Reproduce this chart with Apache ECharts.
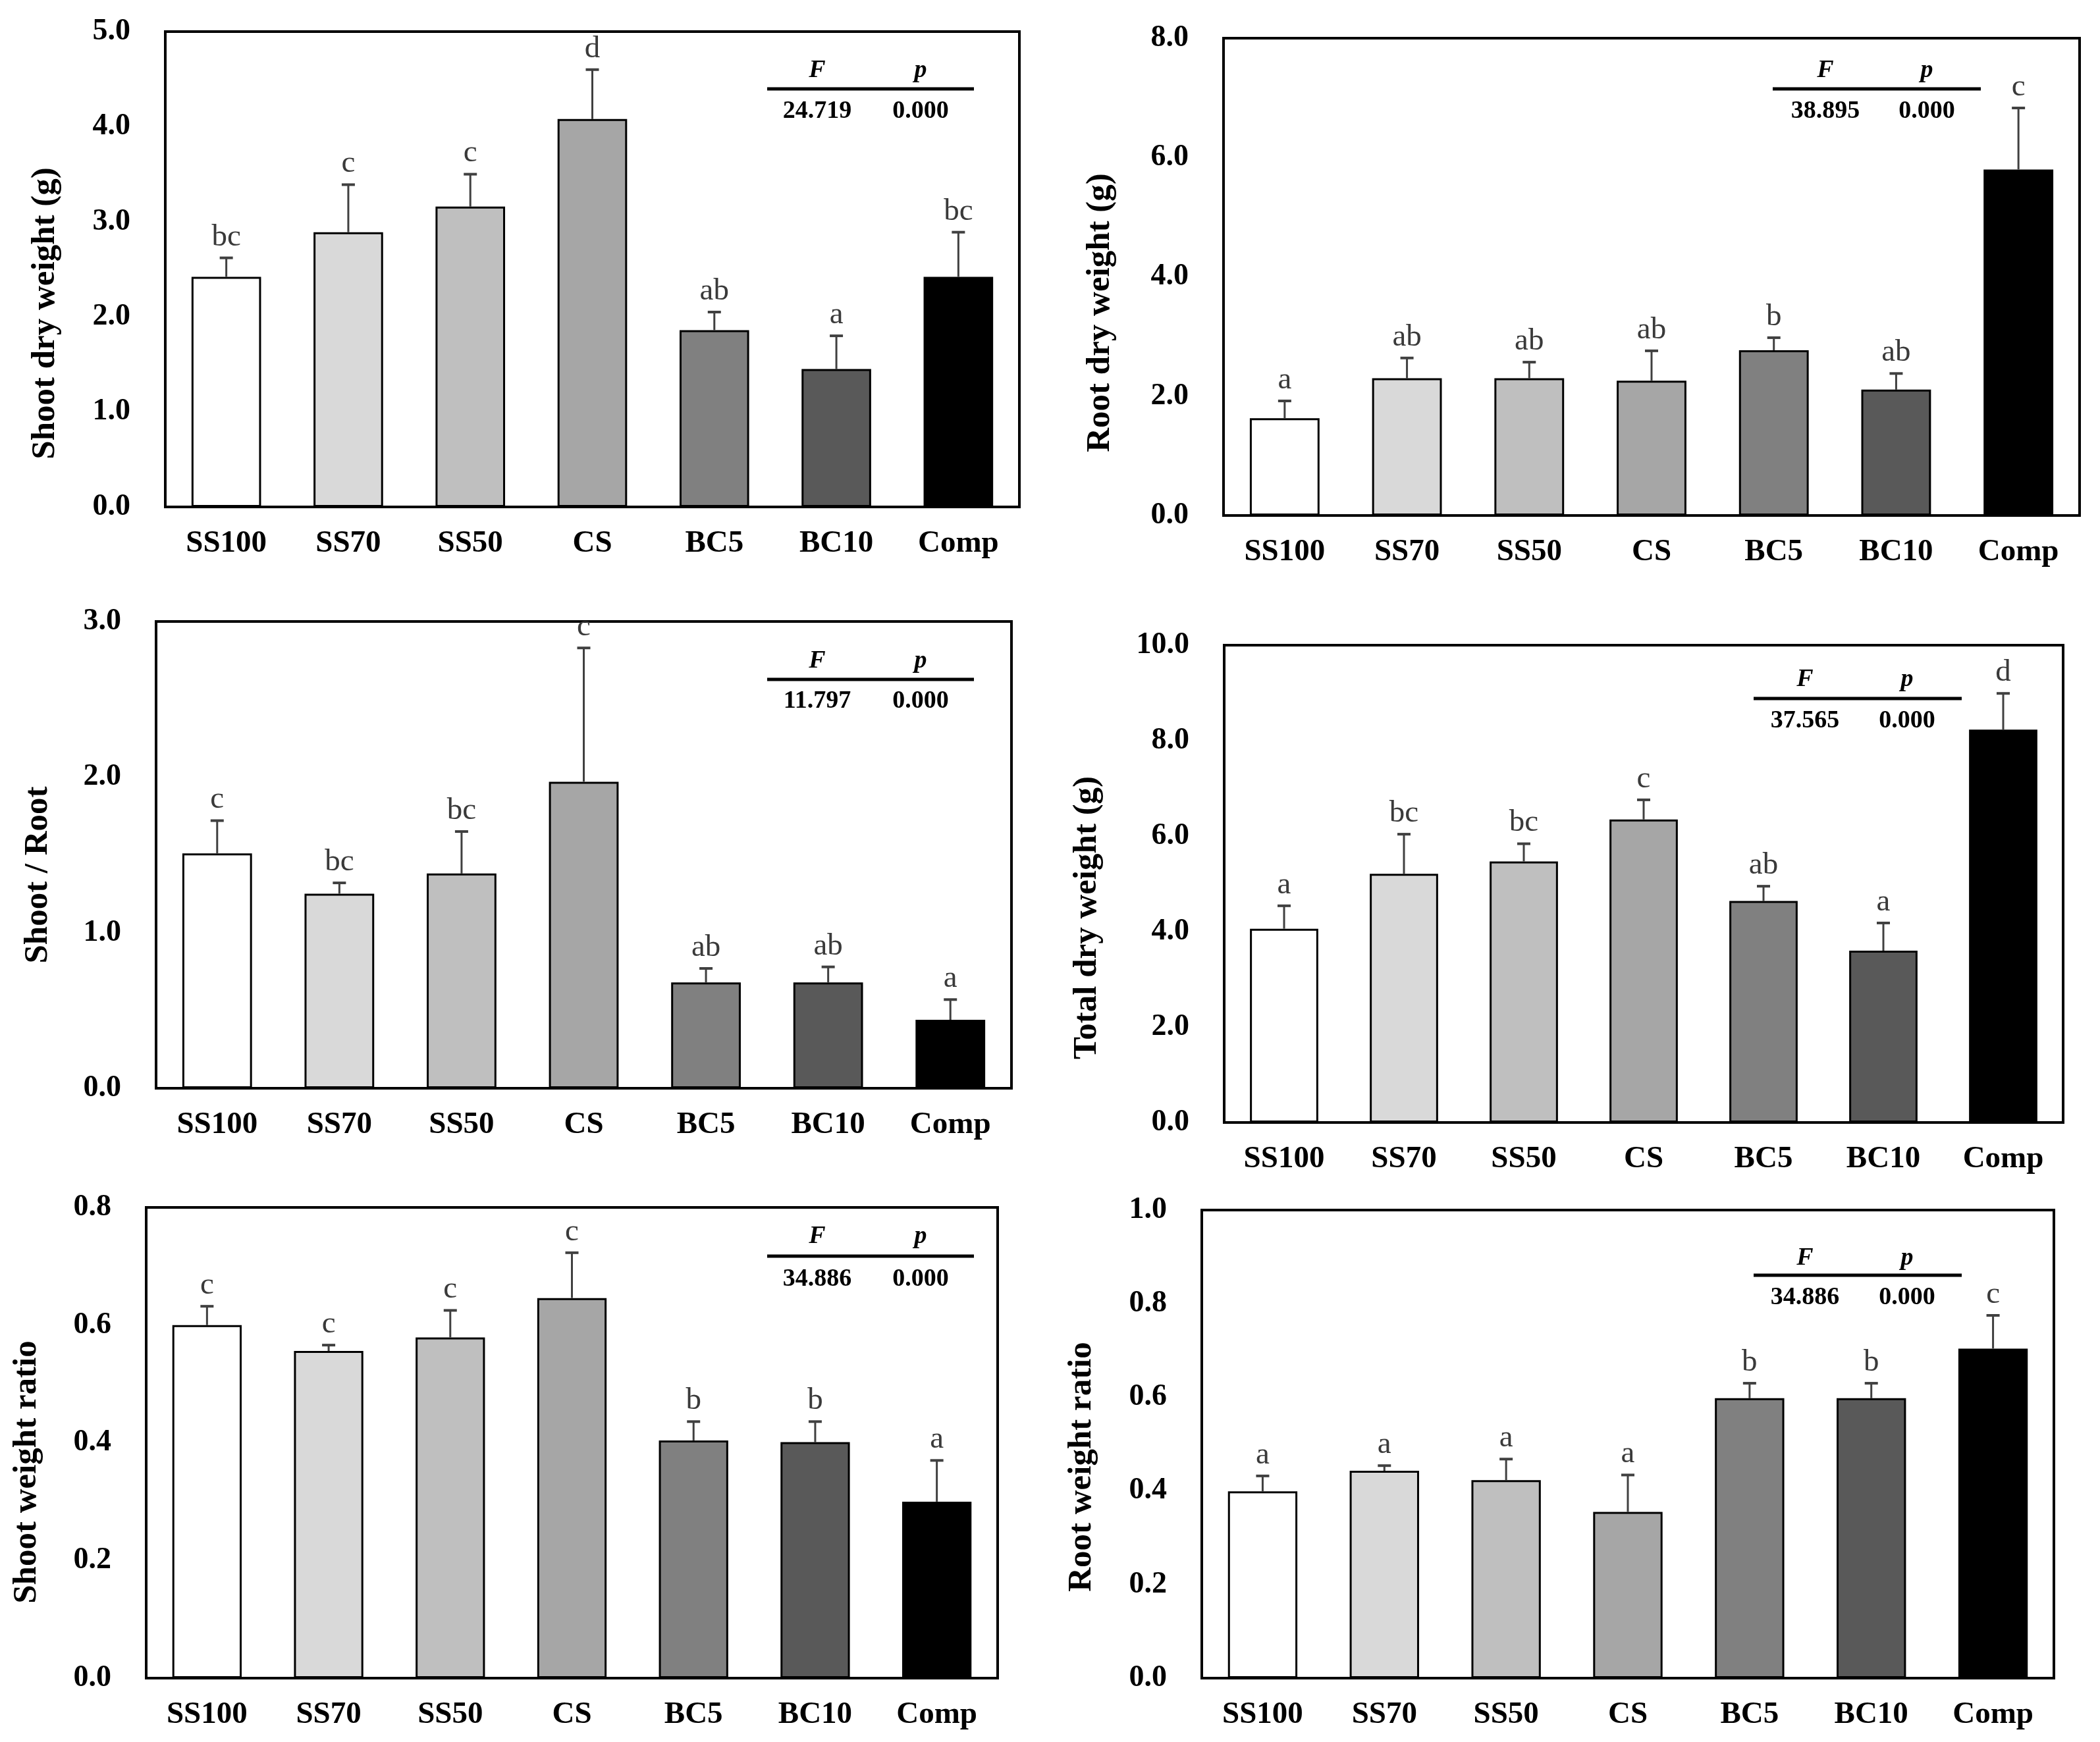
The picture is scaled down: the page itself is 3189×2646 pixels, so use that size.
<!DOCTYPE html>
<html>
<head>
<meta charset="utf-8">
<script src="https://cdn.jsdelivr.net/npm/echarts@6/dist/echarts.min.js"></script>
<style>html,body{margin:0;padding:0;background:#fff;}#c{width:3189px;height:2646px;}</style>
</head>
<body>
<div id="c"></div>
<script>
// ---------- DATA ----------
const categories = ['SS100', 'SS70', 'SS50', 'CS', 'BC5', 'BC10', 'Comp'];
const barColors = ['#ffffff', '#d9d9d9', '#bfbfbf', '#a6a6a6', '#808080', '#595959', '#000000'];

const shootDryWeight = [2.42, 2.89, 3.16, 4.08, 1.86, 1.45, 2.42];
const shootDryWeightErr = [0.20, 0.50, 0.34, 0.52, 0.19, 0.35, 0.47];
const shootDryWeightLetters = ['bc', 'c', 'c', 'd', 'ab', 'a', 'bc'];

const rootDryWeight = [1.63, 2.30, 2.30, 2.26, 2.77, 2.11, 5.80];
const rootDryWeightErr = [0.29, 0.34, 0.27, 0.50, 0.21, 0.27, 1.03];
const rootDryWeightLetters = ['a', 'ab', 'ab', 'ab', 'b', 'ab', 'c'];

const shootRoot = [1.51, 1.25, 1.38, 1.97, 0.68, 0.68, 0.44];
const shootRootErr = [0.21, 0.07, 0.27, 0.86, 0.09, 0.10, 0.13];
const shootRootLetters = ['c', 'bc', 'bc', 'c', 'ab', 'ab', 'a'];

const totalDryWeight = [4.06, 5.21, 5.47, 6.35, 4.64, 3.60, 8.23];
const totalDryWeightErr = [0.48, 0.83, 0.37, 0.41, 0.31, 0.58, 0.76];
const totalDryWeightLetters = ['a', 'bc', 'bc', 'c', 'ab', 'a', 'd'];

const shootWeightRatio = [0.600, 0.556, 0.579, 0.646, 0.404, 0.401, 0.300];
const shootWeightRatioErr = [0.032, 0.010, 0.046, 0.077, 0.032, 0.035, 0.070];
const shootWeightRatioLetters = ['c', 'c', 'c', 'c', 'b', 'b', 'a'];

const rootWeightRatio = [0.399, 0.443, 0.423, 0.355, 0.598, 0.598, 0.704];
const rootWeightRatioErr = [0.033, 0.011, 0.045, 0.079, 0.032, 0.032, 0.071];
const rootWeightRatioLetters = ['a', 'a', 'a', 'a', 'b', 'b', 'c'];

const yTitles = ['Shoot dry weight (g)', 'Root dry weight (g)', 'Shoot / Root', 'Total dry weight (g)', 'Shoot weight ratio', 'Root weight ratio'];
const yMaxes = [5, 8, 3, 10, 0.8, 1.0];
const yIntervals = [1, 2, 1, 2, 0.2, 0.2];
const fValues = ['24.719', '38.895', '11.797', '37.565', '34.886', '34.886'];
const pValues = ['0.000', '0.000', '0.000', '0.000', '0.000', '0.000'];

// ---------- LAYOUT (pixels) ----------
const panels = [
  { data: shootDryWeight, err: shootDryWeightErr, letters: shootDryWeightLetters, box: [251, 48, 1548, 770], title: [69, 476], inset: { fx: 1241, px: 1398, ly: 135, l1: 1165, l2: 1479, hy: 107, ny: 169 } },
  { data: rootDryWeight, err: rootDryWeightErr, letters: rootDryWeightLetters, box: [1858, 58, 3158, 783], title: [1671, 475], inset: { fx: 2772, px: 2926, ly: 135, l1: 2692, l2: 3008, hy: 107, ny: 169 } },
  { data: shootRoot, err: shootRootErr, letters: shootRootLetters, box: [237, 944, 1536, 1653], title: [58, 1329], inset: { fx: 1241, px: 1398, ly: 1032, l1: 1165, l2: 1479, hy: 1004, ny: 1065 } },
  { data: totalDryWeight, err: totalDryWeightErr, letters: totalDryWeightLetters, box: [1859, 980, 3133, 1705], title: [1651, 1394], inset: { fx: 2741, px: 2896, ly: 1061, l1: 2663, l2: 2979, hy: 1032, ny: 1095 } },
  { data: shootWeightRatio, err: shootWeightRatioErr, letters: shootWeightRatioLetters, box: [222, 1834, 1515, 2549], title: [41, 2236], inset: { fx: 1241, px: 1398, ly: 1908, l1: 1165, l2: 1479, hy: 1878, ny: 1943 } },
  { data: rootWeightRatio, err: rootWeightRatioErr, letters: rootWeightRatioLetters, box: [1825, 1838, 3119, 2549], title: [1643, 2228], inset: { fx: 2741, px: 2896, ly: 1937, l1: 2663, l2: 2979, hy: 1911, ny: 1971 } }
];

const SERIF = '"Liberation Serif", "Times New Roman", serif';
const grids = [], xAxes = [], yAxes = [], series = [], graphics = [];

panels.forEach((pn, k) => {
  const [l, t, r, b] = pn.box;
  grids.push({ left: l, top: t, width: r - l, height: b - t, show: true, borderColor: '#000', borderWidth: 4, backgroundColor: '#fff', containLabel: false });
  xAxes.push({
    type: 'category', gridIndex: k, data: categories,
    axisLine: { show: true, lineStyle: { color: '#000', width: 4 } },
    axisTick: { show: false },
    axisLabel: { interval: 0, margin: 32, color: '#000', fontFamily: SERIF, fontWeight: 'bold', fontSize: 47 }
  });
  yAxes.push({
    type: 'value', gridIndex: k, min: 0, max: yMaxes[k], interval: yIntervals[k],
    axisLine: { show: false }, axisTick: { show: false }, splitLine: { show: false },
    axisLabel: { margin: 53, color: '#000', fontFamily: SERIF, fontWeight: 'bold', fontSize: 46, formatter: v => v.toFixed(1) }
  });
  series.push({
    type: 'bar', xAxisIndex: k, yAxisIndex: k, barWidth: '57%', z: 2,
    data: pn.data.map((v, i) => ({ value: v, itemStyle: { color: barColors[i], borderColor: '#000', borderWidth: 3 } })),
    animation: false
  });
  const letters = pn.letters;
  series.push({
    type: 'custom', xAxisIndex: k, yAxisIndex: k, z: 5, animation: false,
    data: pn.data.map((v, i) => [i, v, pn.err[i]]),
    renderItem: function (params, api) {
      const x = api.value(0);
      const mean = api.value(1);
      const e = api.value(2);
      const p0 = api.coord([x, mean]);
      const p1 = api.coord([x, mean + e]);
      const cap = 10;
      return {
        type: 'group',
        children: [
          { type: 'line', shape: { x1: p0[0], y1: p0[1], x2: p1[0], y2: p1[1] }, style: { stroke: '#404040', lineWidth: 3 } },
          { type: 'line', shape: { x1: p1[0] - cap, y1: p1[1], x2: p1[0] + cap, y2: p1[1] }, style: { stroke: '#404040', lineWidth: 4 } },
          { type: 'text', x: p1[0], y: p1[1] - 8, style: { text: letters[params.dataIndex], font: '47px ' + SERIF, fill: '#3a3a3a', align: 'center', verticalAlign: 'bottom' } }
        ]
      };
    }
  });
  // Y-axis title
  graphics.push({ type: 'text', x: pn.title[0], y: pn.title[1], rotation: Math.PI / 2,
    style: { text: yTitles[k], font: 'bold 51px ' + SERIF, fill: '#000', align: 'center', verticalAlign: 'middle' } });
  // F / p inset
  const s = pn.inset;
  graphics.push({ type: 'text', x: s.fx, y: s.hy, style: { text: 'F', font: 'italic bold 38px ' + SERIF, fill: '#000', align: 'center', verticalAlign: 'middle' } });
  graphics.push({ type: 'text', x: s.px, y: s.hy, style: { text: 'p', font: 'italic bold 38px ' + SERIF, fill: '#000', align: 'center', verticalAlign: 'middle' } });
  graphics.push({ type: 'line', shape: { x1: s.l1, y1: s.ly, x2: s.l2, y2: s.ly }, style: { stroke: '#000', lineWidth: 5 } });
  graphics.push({ type: 'text', x: s.fx, y: s.ny, style: { text: fValues[k], font: 'bold 38px ' + SERIF, fill: '#000', align: 'center', verticalAlign: 'middle' } });
  graphics.push({ type: 'text', x: s.px, y: s.ny, style: { text: pValues[k], font: 'bold 38px ' + SERIF, fill: '#000', align: 'center', verticalAlign: 'middle' } });
});

const chart = echarts.init(document.getElementById('c'), null, { renderer: 'canvas' });
chart.setOption({
  backgroundColor: '#ffffff',
  animation: false,
  grid: grids,
  xAxis: xAxes,
  yAxis: yAxes,
  series: series,
  graphic: graphics
});
</script>
</body>
</html>
